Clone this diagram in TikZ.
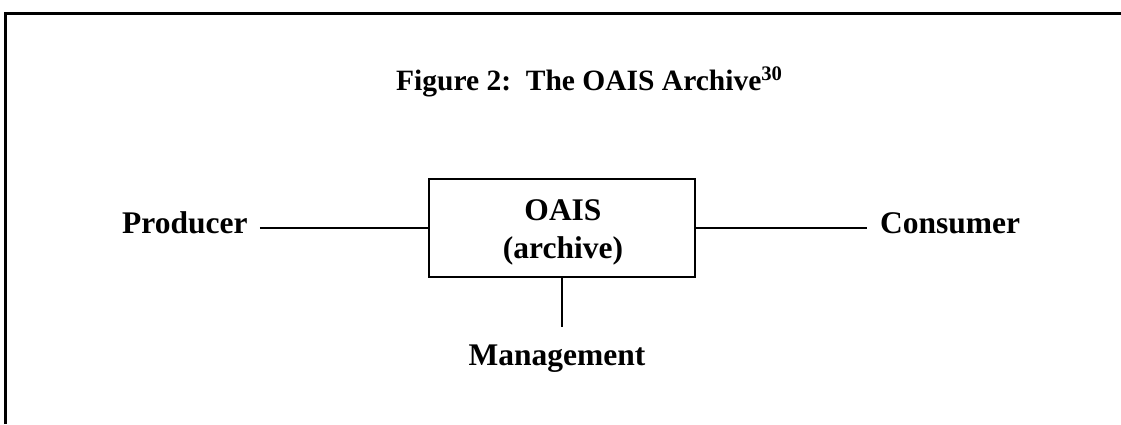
\documentclass[tikz,border=0pt]{standalone}
\usepackage{fontspec}
\setmainfont{Liberation Serif}
\begin{document}
\begin{tikzpicture}[x=1pt,y=-1pt,
  lbl/.style={inner sep=0pt,font=\fontsize{31.5}{38}\selectfont\bfseries},
  ttl/.style={inner sep=0pt,font=\fontsize{29.5}{34}\selectfont\bfseries},
  archbox/.style={draw,line width=2.2pt,minimum width=266pt,minimum height=98pt,inner sep=0pt},
  conn/.style={line width=1.8pt},
  frameline/.style={line width=3pt}]
\useasboundingbox (0,0) rectangle (1121,424);
% frame (partially visible)
\coordinate (fl) at (5,424);
\coordinate (fc) at (5,13);
\coordinate (fr) at (1121,13);
\draw[frameline] (fl) -- (fc) -- (fr);
% title
\node[ttl,anchor=base west] (title) at (396,90) {Figure 2:\ \ The OAIS Archive\textsuperscript{30}};
% archive box
\node[archbox] (box) at (562,228) {};
\node[lbl,anchor=base] (oais) at (563,220) {OAIS};
\node[lbl,anchor=base] (arch) at (563,258) {(archive)};
% actors
\node[lbl,anchor=base west] (prod) at (122,233) {Producer};
\node[lbl,anchor=base west] (cons) at (880,233) {Consumer};
\node[lbl,anchor=base] (mgmt) at (557,365) {Management};
% connectors
\coordinate (pe) at ([xshift=12pt]prod.east |- box.west);
\coordinate (cw) at ([xshift=-13pt]cons.west |- box.east);
\coordinate (mn) at ([yshift=17pt]mgmt.north);
\coordinate (mt) at (box.south |- mn);
\draw[conn] (pe) -- (box.west);
\draw[conn] (box.east) -- (cw);
\draw[conn] (box.south) -- (mt);
\end{tikzpicture}
\end{document}
